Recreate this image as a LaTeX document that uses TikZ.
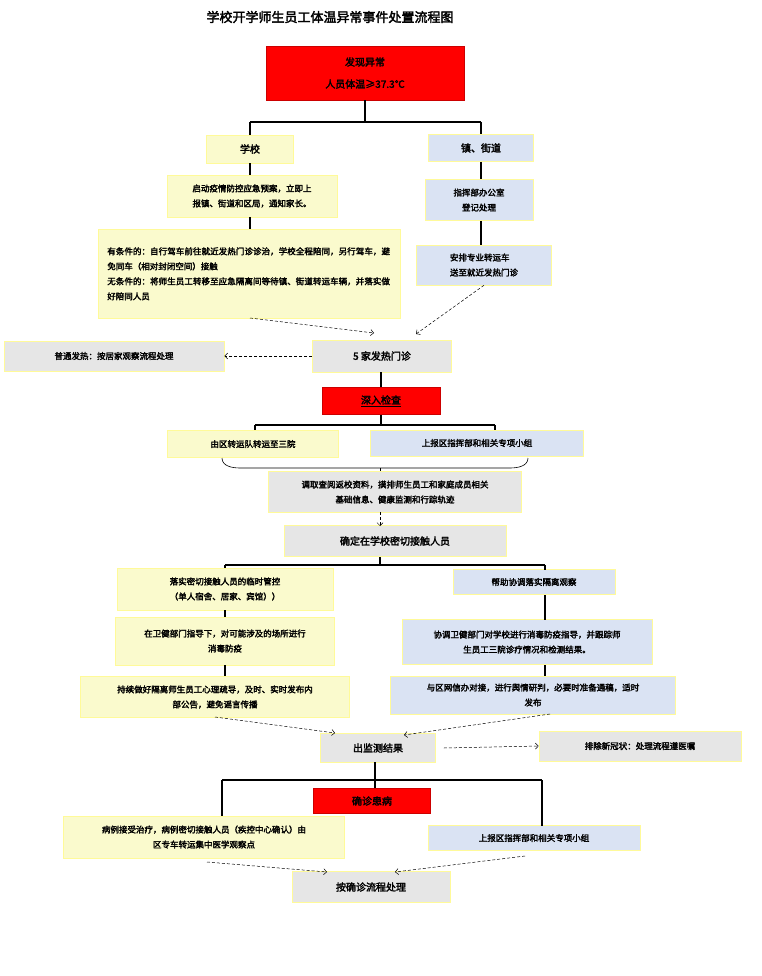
\documentclass[tikz,border=0pt]{standalone}
\usepackage{fontspec}
\setmainfont{Noto Sans CJK SC}[AutoFakeBold=2.5]
\XeTeXlinebreaklocale "zh"
\XeTeXlinebreakskip = 0pt plus 1pt
\usetikzlibrary{arrows.meta}
\definecolor{alarm}{HTML}{FF0000}
\definecolor{paleyel}{HTML}{FAFACD}
\definecolor{paleblue}{HTML}{DAE3F3}
\definecolor{palegray}{HTML}{E6E6E6}
\begin{document}
\begin{tikzpicture}[x=1pt,y=-1pt,
    box/.style={draw=yellow!40, line width=0.6pt, inner sep=3pt, align=center, font=\bfseries\fontsize{8.5}{15}\selectfont},
    redbox/.style={box, fill=alarm, draw=alarm!80!black},
    yelbox/.style={box, fill=paleyel},
    bluebox/.style={box, fill=paleblue},
    graybox/.style={box, fill=palegray},
    link/.style={line width=1.4pt},
    dasharrow/.style={densely dashed, -{Straight Barb[length=3pt]}, line width=0.5pt}]

    \useasboundingbox (0,0) rectangle (761,976);
    \node[font=\bfseries\fontsize{13}{15}\selectfont] (title) at (330,17) {学校开学师生员工体温异常事件处置流程图};

    % top part
    \node[redbox, minimum width=198, minimum height=54, font=\bfseries\fontsize{10}{22}\selectfont] (abn) at (365,73) {发现异常\\人员体温≥37.3℃};
    \node[yelbox, minimum width=87, minimum height=28, font=\bfseries\fontsize{10}{12}\selectfont] (school) at (250,149) {学校};
    \node[bluebox, minimum width=105, minimum height=27, font=\bfseries\fontsize{10}{12}\selectfont] (town) at (481,148) {镇、街道};
    \node[yelbox, minimum width=170, minimum height=42, align=left] (s1) at (252,196) {启动疫情防控应急预案，立即上\\报镇、街道和区局，通知家长。};
    \node[yelbox, minimum width=302, minimum height=89, text width=284, align=left, anchor=north west, inner sep=8pt] (s2) at (98,229) {有条件的：自行驾车前往就近发热门诊诊治，学校全程陪同，另行驾车，避免同车（相对封闭空间）接触\\无条件的：将师生员工转移至应急隔离间等待镇、街道转运车辆，并落实做好陪同人员\\[12pt]};
    \node[bluebox, minimum width=108, minimum height=41] (t1) at (479,200) {指挥部办公室\\登记处理};
    \node[bluebox, minimum width=135, minimum height=40, align=left] (t2) at (484,265) {安排专业转运车\\送至就近发热门诊};

    \draw[link] (abn.south) -- (365,122);
    \draw[link] (250,122) -- (481,122);
    \draw[link] (250,122) -- (school.north);
    \draw[link] (481,122) -- (town.north);
    \draw[link] (school) -- (s1.north -| school);
    \draw[link] (s1.south -| school) -- (s2.north -| school);
    \draw[link] (town) -- (t1.north -| town);
    \draw[link] (t1.south -| town) -- (t2.north -| town);

    % fever clinic
    \node[graybox, minimum width=139, minimum height=32, font=\bfseries\fontsize{10}{12}\selectfont] (fever) at (382,356) {5 家发热门诊};
    \node[graybox, minimum width=220, minimum height=30] (normal) at (114,356) {普通发热：按居家观察流程处理};
    \node[redbox, minimum width=118, minimum height=27, font=\bfseries\fontsize{10}{12}\selectfont] (exam) at (381,401) {\underline{深入检查}};
    \node[yelbox, minimum width=171, minimum height=27] (hosp) at (253,444) {由区转运队转运至三院};
    \node[bluebox, minimum width=213, minimum height=26] (report) at (477,443) {上报区指挥部和相关专项小组};
    \node[graybox, minimum width=253, minimum height=41] (trace) at (395,492) {调取查阅返校资料，摸排师生员工和家庭成员相关\\基础信息、健康监测和行踪轨迹};
    \node[graybox, minimum width=222, minimum height=31, font=\bfseries\fontsize{10}{12}\selectfont] (confirm) at (395,541) {确定在学校密切接触人员};

    \draw[dasharrow] (250,318) -- (374,333);
    \draw[dasharrow] (t2.south) -- (416,334);
    \draw[dasharrow] (fever.west) -- (normal.east);
    \draw[link] (381,372) -- (exam.north);
    \draw[link] (exam.south) -- (381,425);
    \draw[link] (255,425) -- (495,425);
    \draw[link] (255,425) -- (255,430);
    \draw[link] (495,425) -- (495,430);
    \draw[line width=0.6pt] (222,458) to[out=-90,in=180] (240,468) -- (510,468) to[out=0,in=-90] (528,458);
    \draw[densely dashed] (380,468) -- (380,471);
    \draw[dasharrow] (380,512) -- (380,526);

    % close contacts
    \node[yelbox, minimum width=216, minimum height=42] (c1) at (225,589) {落实密切接触人员的临时管控\\（单人宿舍、居家、宾馆））};
    \node[yelbox, minimum width=219, minimum height=48] (c2) at (225,641) {在卫健部门指导下，对可能涉及的场所进行\\消毒防疫};
    \node[yelbox, minimum width=269, minimum height=41] (c3) at (215,697) {持续做好隔离师生员工心理疏导，及时、实时发布内\\部公告，避免谣言传播};
    \node[bluebox, minimum width=162, minimum height=25] (d1) at (534,582) {帮助协调落实隔离观察};
    \node[bluebox, minimum width=250, minimum height=45] (d2) at (527,642) {协调卫健部门对学校进行消毒防疫指导，并跟踪师\\生员工三院诊疗情况和检测结果。};
    \node[bluebox, minimum width=285, minimum height=38] (d3) at (533,695) {与区网信办对接，进行舆情研判，必要时准备通稿，适时\\发布};

    \draw[link] (380,557) -- (380,565);
    \draw[link] (225,565) -- (545,565);
    \draw[link] (225,565) -- (c1.north);
    \draw[link] (545,565) -- (545,570);
    \draw[link] (c1) -- (c2);
    \draw[link] (c2) -- (c2.south |- c3.north);
    \draw[link] (545,595) -- (545,620);
    \draw[link] (545,665) -- (545,676);

    % result
    \node[graybox, minimum width=115, minimum height=29, font=\bfseries\fontsize{10}{12}\selectfont] (result) at (378,748) {出监测结果};
    \node[graybox, minimum width=202, minimum height=30] (exclude) at (640,746) {排除新冠状：处理流程遵医嘱};
    \node[redbox, minimum width=117, minimum height=25, font=\bfseries\fontsize{10}{12}\selectfont] (diag) at (372,801) {确诊患病};
    \node[yelbox, minimum width=281, minimum height=42] (e1) at (204,837) {病例接受治疗，病例密切接触人员（疾控中心确认）由\\区专车转运集中医学观察点};
    \node[bluebox, minimum width=212, minimum height=25] (e2) at (534,838) {上报区指挥部和相关专项小组};
    \node[graybox, minimum width=158, minimum height=31, font=\bfseries\fontsize{10}{12}\selectfont] (final) at (371,887) {按确诊流程处理};

    \draw[dasharrow] (215,717) -- (335,733);
    \draw[dasharrow] (550,714) -- (404,735);
    \draw[dasharrow] (result.east) ++(8,0) -- (exclude.west);
    \draw[link] (375,762) -- (375,780);
    \draw[link] (222,780) -- (542,780);
    \draw[link] (375,780) -- (375,788);
    \draw[link] (222,780) -- (222,816);
    \draw[link] (542,780) -- (542,826);
    \draw[dasharrow] (207,862) -- (327,872);
    \draw[dasharrow] (525,856) -- (395,872);
\end{tikzpicture}
\end{document}
